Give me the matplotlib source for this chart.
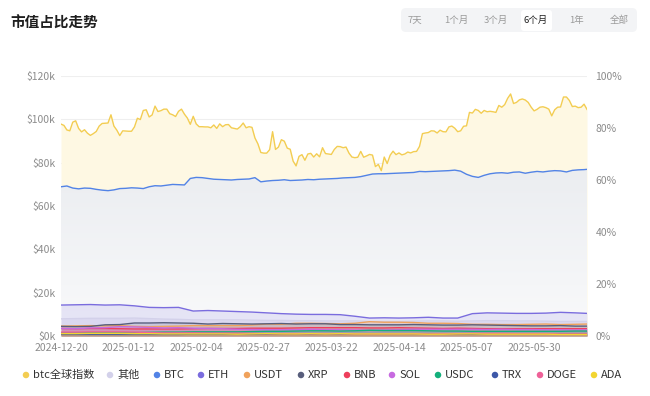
import numpy as np
import pandas as pd
import matplotlib
matplotlib.use("Agg")
import matplotlib.pyplot as plt
from matplotlib.patches import FancyBboxPatch
import matplotlib.dates as mdates

plt.rcParams['font.family'] = ['Noto Sans CJK SC', 'DejaVu Sans']

# ---------------- data ----------------
start_date = "2024-12-20"
n_days = 180

# BTC price (k USD), daily
btc_price_k = [
    97.8, 97.2, 95.1, 94.7, 98.7, 99.3, 95.8, 94.2, 95.2, 93.6, 92.6, 93.4,
    94.4, 96.9, 98.1, 98.2, 98.3, 102.1, 96.9, 95.0, 92.5, 94.7, 94.6, 94.5, 94.5, 96.5,
    100.5, 99.9, 104.1, 104.4, 101.1, 102.0, 106.1, 103.6, 104.0, 104.7, 104.7, 102.6,
    102.1, 101.3, 103.7, 104.7, 102.4,
    100.6, 97.7, 101.4, 97.9, 96.6, 96.6, 96.5, 96.5, 96.1, 97.4, 95.8, 97.9, 96.6, 97.5,
    97.6, 96.1, 95.8, 95.5, 96.6, 98.3, 96.1, 96.6, 96.3, 91.4, 88.7, 84.7, 84.4, 84.4,
    86.0, 94.3, 86.1, 87.2, 90.6, 89.9, 86.7, 86.2, 80.7, 78.5, 82.9, 83.7, 81.1, 84.0,
    84.3, 82.6, 84.1, 82.7, 86.9, 84.2, 84.0, 83.8, 86.1, 87.5, 87.4, 86.9, 87.2, 84.4,
    82.6, 82.3, 82.5,
    85.2, 82.5, 83.1, 83.8, 83.5, 78.2, 79.2, 76.3, 82.6, 79.6, 83.4, 85.3, 83.7, 84.5,
    83.6, 84.0, 84.9, 84.5, 85.1, 85.2, 87.5, 93.4, 93.7, 93.9, 94.7, 94.6, 93.7, 95.0,
    94.3, 94.2,
    96.5, 96.9, 95.9, 94.3, 94.7, 96.8, 97.0, 103.2, 102.9, 104.6, 104.1, 102.8, 104.1,
    103.5, 103.7, 103.5, 103.2, 106.4, 105.6, 106.8, 109.7, 111.7, 107.3, 107.8, 109.0,
    109.4, 108.9, 107.8, 105.6, 103.9, 104.6,
    105.6, 105.8, 105.4, 104.7, 101.6, 104.4, 105.6, 105.7, 110.3, 110.3, 108.7, 105.9,
    106.1, 105.4, 105.6, 107.0, 104.6,
]

# BTC market-cap share (%), every 2 days + last day
btc_share_day = list(range(0, 180, 2)) + [179]
btc_share = [
    57.4, 57.7, 56.9, 56.6, 56.9, 56.8, 56.4, 56.1, 55.9, 56.2,
    56.7, 56.8, 57.0, 56.9, 56.7, 57.4, 57.8, 57.7, 58.0, 58.3,
    58.2, 58.1, 60.6, 61.0, 60.9, 60.6, 60.3, 60.2, 60.1, 60.0,
    60.2, 60.3, 60.4, 60.9, 59.3, 59.6, 59.8, 59.9, 60.1, 59.8,
    59.9, 60.0, 60.2, 60.1, 60.3, 60.4, 60.5, 60.6, 60.8, 60.9,
    61.0, 61.3, 61.8, 62.3, 62.4, 62.4, 62.5, 62.6, 62.7, 62.8,
    62.9, 63.3, 63.2, 63.3, 63.4, 63.5, 63.6, 63.8, 63.4, 62.2,
    61.4, 61.0, 61.8, 62.4, 62.7, 62.8, 62.6, 63.0, 63.1, 62.6,
    63.0, 63.3, 63.1, 63.4, 63.6, 63.5, 63.1, 63.7, 63.9, 64.0,
    64.1,
]

# other assets' share (%), every 5 days + last day
minor_day = list(range(0, 180, 5)) + [179]
eth_share = [11.9, 12.0, 12.1, 11.9, 12.0, 11.6, 11.0, 10.9, 11.0, 9.6, 9.8, 9.6, 9.4,
             9.2, 8.9, 8.6, 8.4, 8.3, 8.3, 8.2, 7.6, 6.9, 7.0, 6.9, 7.0, 7.2, 6.9, 6.9,
             8.6, 8.9, 8.8, 8.7, 8.7, 8.8, 9.1, 8.9, 8.7]
other_share = [6.6, 6.7, 6.8, 6.8, 6.8, 6.9, 6.7, 6.5, 6.4, 6.2, 6.2, 6.2, 6.2, 6.1,
               6.0, 6.0, 5.9, 5.9, 5.8, 5.8, 5.8, 5.6, 5.6, 5.6, 5.7, 5.8, 5.8, 5.7,
               5.8, 5.9, 5.9, 5.8, 5.8, 5.7, 5.6, 5.6, 5.6]
usdt_share = [3.8, 3.9, 4.0, 3.9, 4.0, 3.7, 3.6, 3.7, 3.8, 4.0, 4.0, 4.0, 4.0, 4.2, 4.6,
              4.5, 4.9, 4.9, 4.8, 4.7, 4.9, 5.5, 5.3, 5.3, 5.2, 4.9, 4.9, 4.8, 4.5, 4.5,
              4.4, 4.4, 4.5, 4.6, 4.4, 4.5, 4.6]
xrp_share = [3.7, 3.6, 3.7, 4.3, 4.4, 5.0, 5.0, 5.1, 5.0, 4.9, 4.6, 4.8, 4.7, 4.6, 4.7,
             4.8, 4.6, 4.7, 4.7, 4.4, 4.4, 4.3, 4.3, 4.3, 4.4, 4.3, 4.2, 4.2, 4.3, 4.2,
             4.1, 4.0, 3.9, 3.9, 4.0, 3.8, 3.8]
bnb_share = [2.9, 2.8, 2.9, 2.9, 2.8, 2.7, 2.7, 2.7, 2.7, 2.8, 2.9, 2.9, 2.9, 3.0, 3.0,
             3.0, 3.1, 3.2, 3.2, 3.2, 3.2, 3.1, 3.1, 3.2, 3.1, 3.0, 2.9, 3.0, 2.9, 2.8,
             2.8, 2.8, 2.8, 2.8, 2.8, 2.8, 2.8]
sol_share = [2.9, 2.8, 3.1, 3.2, 3.6, 3.5, 3.3, 3.1, 3.2, 3.0, 2.9, 2.8, 2.6, 2.5, 2.4,
             2.4, 2.4, 2.6, 2.4, 2.4, 2.3, 2.2, 2.3, 2.4, 2.6, 2.6, 2.6, 2.6, 2.6, 2.5,
             2.6, 2.5, 2.5, 2.4, 2.4, 2.3, 2.4]
usdc_share = [1.2, 1.2, 1.3, 1.3, 1.3, 1.3, 1.4, 1.5, 1.5, 1.6, 1.6, 1.6, 1.6, 1.7, 1.8,
              1.8, 1.9, 2.0, 2.0, 1.9, 2.0, 2.2, 2.1, 2.1, 2.1, 2.0, 1.9, 1.9, 1.8, 1.8,
              1.8, 1.8, 1.8, 1.8, 1.8, 1.9, 1.9]
trx_share = [0.6, 0.6, 0.6, 0.6, 0.6, 0.6, 0.6, 0.6, 0.6, 0.7, 0.7, 0.7, 0.7, 0.7, 0.7,
             0.7, 0.8, 0.8, 0.8, 0.8, 0.8, 0.8, 0.8, 0.8, 0.8, 0.8, 0.7, 0.7, 0.7, 0.7,
             0.7, 0.7, 0.7, 0.7, 0.8, 0.8, 0.8]
doge_share = [1.5, 1.5, 1.6, 1.6, 1.6, 1.5, 1.3, 1.2, 1.2, 1.2, 1.1, 1.1, 1.1, 1.0, 0.9,
              0.9, 0.9, 0.9, 0.9, 0.9, 0.8, 0.8, 0.8, 0.8, 0.9, 0.8, 0.9, 0.9, 1.0, 1.0,
              1.0, 0.9, 0.9, 0.9, 0.8, 0.8, 0.8]
ada_share = [0.9, 0.9, 1.0, 1.0, 1.0, 0.9, 0.9, 0.8, 0.8, 0.8, 0.8, 0.8, 0.7, 0.8, 0.9,
             0.8, 0.8, 0.9, 0.8, 0.9, 0.8, 0.8, 0.8, 0.8, 0.8, 0.7, 0.7, 0.8, 0.8, 0.7,
             0.7, 0.7, 0.7, 0.7, 0.6, 0.6, 0.6]

series_names = ["btc全球指数", "其他", "BTC", "ETH", "USDT", "XRP", "BNB", "SOL",
                "USDC", "TRX", "DOGE", "ADA"]
series_colors = ["#f3cd52", "#d3d1ea", "#5283e6", "#7a6cde", "#f0a25c", "#585e7c",
                 "#ee3f5c", "#c76ae0", "#14b07c", "#3d58a8", "#ee6198", "#f2d531"]

x_tick_labels = ["2024-12-20", "2025-01-12", "2025-02-04", "2025-02-27",
                 "2025-03-22", "2025-04-14", "2025-05-07", "2025-05-30"]
price_ticks_k = [0, 20, 40, 60, 80, 100, 120]
share_ticks = [0, 20, 40, 60, 80, 100]
range_buttons = ["7天", "1个月", "3个月", "6个月", "1年", "全部"]
selected_button = "6个月"
title = "市值占比走势"

# ---------------- figure ----------------
W, H = 650, 396
fig = plt.figure(figsize=(W / 100, H / 100), dpi=100)
fig.patch.set_facecolor("white")

dates = pd.date_range(start_date, periods=n_days, freq="D")
xd = mdates.date2num(dates)

L, R, T, B = 61, 587, 76, 336
ax = fig.add_axes([L / W, 1 - B / H, (R - L) / W, (B - T) / H])
ax2 = ax.twinx()

# price axis
ax.set_xlim(xd[0], xd[-1])
ax.set_ylim(0, 120)
ax.set_yticks(price_ticks_k)
ax.set_yticklabels([f"${v}k" for v in price_ticks_k])
for v in price_ticks_k:
    ax.axhline(v, color="#efefef", lw=0.8, zorder=0)
ax.fill_between(xd, btc_price_k, 0, color="#fef8e3", lw=0, zorder=1)
ax.plot(xd, btc_price_k, color=series_colors[0], lw=1.0, zorder=3)

# share axis
ax2.set_ylim(0, 100)
ax2.set_yticks(share_ticks)
ax2.set_yticklabels([f"{v}%" for v in share_ticks])

bx = mdates.date2num(dates[btc_share_day])
poly = ax2.fill_between(bx, btc_share, 0, facecolor="none", lw=0)
grad = np.linspace(0, 1, 256).reshape(-1, 1)
top_c = np.array([0.922, 0.930, 0.943])
bot_c = np.array([0.978, 0.980, 0.985])
img = (top_c[None, None, :] * (1 - grad[:, :, None]) + bot_c[None, None, :] * grad[:, :, None])
im = ax2.imshow(img, extent=[xd[0], xd[-1], 0, max(btc_share)], aspect="auto",
                origin="upper", zorder=1, interpolation="bilinear")
im.set_clip_path(poly.get_paths()[0], transform=ax2.transData)
ax2.plot(bx, btc_share, color=series_colors[2], lw=1.0, zorder=4)

mx = mdates.date2num(dates[minor_day])
minor = [
    (other_share, series_colors[1], 0.35),
    (eth_share, series_colors[3], 0.14),
    (usdt_share, series_colors[4], 0.22),
    (xrp_share, series_colors[5], 0.14),
    (bnb_share, series_colors[6], 0.22),
    (sol_share, series_colors[7], 0.22),
    (usdc_share, series_colors[8], 0.22),
    (trx_share, series_colors[9], 0.22),
    (doge_share, series_colors[10], 0.3),
    (ada_share, series_colors[11], 0.35),
]
for vals, col, a in minor:
    ax2.fill_between(mx, vals, 0, color=col, alpha=a, lw=0, zorder=2)
    ax2.plot(mx, vals, color=col, lw=1.0, zorder=3)

ax.set_xticks(mdates.date2num(pd.to_datetime(x_tick_labels)))
ax.set_xticklabels(x_tick_labels)

for a in (ax, ax2):
    for s in a.spines.values():
        s.set_visible(False)
    a.tick_params(length=0, colors="#8c8c8c", labelsize=7.5)
ax.tick_params(axis="y", pad=4)
ax.tick_params(axis="x", pad=5)
ax2.tick_params(axis="y", pad=6)
ax.patch.set_visible(False)

# ---------------- overlay: title, buttons, legend ----------------
ov = fig.add_axes([0, 0, 1, 1], zorder=10)
ov.set_xlim(0, W)
ov.set_ylim(H, 0)
ov.axis("off")
ov.patch.set_visible(False)

ov.text(10, 22.5, title, fontsize=10.5, fontweight="bold", color="#1f1f1f",
        va="center", ha="left")

ov.add_patch(FancyBboxPatch((401, 8), 236, 24, boxstyle="round,pad=0,rounding_size=5",
                            facecolor="#f3f4f6", edgecolor="none"))
btn_x = [415, 456, 496, 536, 577, 619]
for lab, bxp in zip(range_buttons, btn_x):
    if lab == selected_button:
        ov.add_patch(FancyBboxPatch((bxp - 15, 10), 31, 21,
                                    boxstyle="round,pad=0,rounding_size=3",
                                    facecolor="white", edgecolor="none"))
        ov.text(bxp, 20.5, lab, fontsize=6.8, color="#222222", ha="center", va="center")
    else:
        ov.text(bxp, 20.5, lab, fontsize=6.8, color="#9a9a9a", ha="center", va="center")

leg_x = [26, 110, 157, 201, 247, 301, 347, 392, 438, 495, 540, 594]
for name, col, lx in zip(series_names, series_colors, leg_x):
    ov.scatter([lx], [375], s=22, color=col, edgecolors="none")
    ov.text(lx + 7, 375, name, fontsize=8, color="#333333", va="center", ha="left")

fig.savefig("out.png", dpi=100, facecolor="white")
